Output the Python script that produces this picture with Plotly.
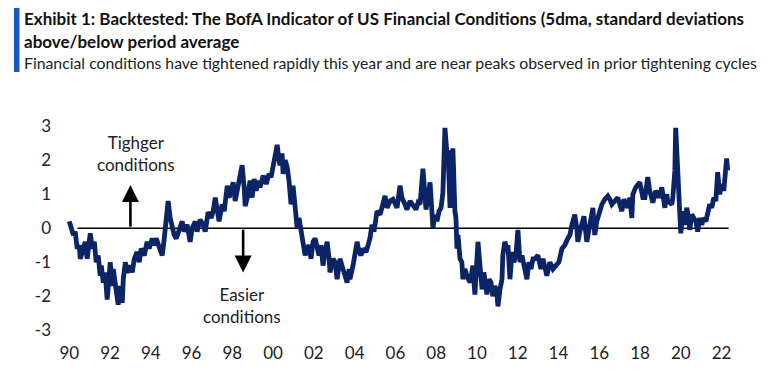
import plotly.graph_objects as go

years = [
    1990.00, 1990.05, 1990.20, 1990.29, 1990.39, 1990.49, 1990.54, 1990.64, 1990.78, 1990.88,
    1991.03, 1991.13, 1991.23, 1991.32, 1991.42, 1991.52, 1991.57, 1991.67, 1991.76, 1991.86,
    1991.96, 1992.01, 1992.11, 1992.16, 1992.25, 1992.40, 1992.50, 1992.60, 1992.65, 1992.75,
    1992.84, 1992.99, 1993.09, 1993.19, 1993.33, 1993.43, 1993.53, 1993.68, 1993.82, 1993.92,
    1994.07, 1994.17, 1994.26, 1994.41, 1994.56, 1994.66, 1994.75, 1994.85, 1994.95, 1995.05,
    1995.15, 1995.25, 1995.39, 1995.54, 1995.64, 1995.78, 1995.93, 1996.03, 1996.18, 1996.27,
    1996.42, 1996.57, 1996.67, 1996.76, 1996.81, 1996.96, 1997.06, 1997.16, 1997.25, 1997.35,
    1997.50, 1997.60, 1997.75, 1997.84, 1997.94, 1998.04, 1998.14, 1998.24, 1998.33, 1998.48,
    1998.58, 1998.63, 1998.77, 1998.87, 1998.97, 1999.07, 1999.17, 1999.26, 1999.36, 1999.51,
    1999.66, 1999.80, 1999.90, 2000.00, 2000.10, 2000.20, 2000.29, 2000.34, 2000.44, 2000.49,
    2000.59, 2000.69, 2000.78, 2000.88, 2000.98, 2001.08, 2001.18, 2001.27, 2001.37, 2001.47,
    2001.57, 2001.67, 2001.76, 2001.86, 2001.96, 2002.06, 2002.16, 2002.25, 2002.35, 2002.45,
    2002.55, 2002.65, 2002.75, 2002.79, 2002.94, 2003.04, 2003.14, 2003.28, 2003.38, 2003.48,
    2003.63, 2003.73, 2003.77, 2003.92, 2004.02, 2004.12, 2004.22, 2004.31, 2004.41, 2004.56,
    2004.66, 2004.75, 2004.85, 2004.95, 2005.05, 2005.10, 2005.25, 2005.34, 2005.49, 2005.59,
    2005.74, 2005.88, 2005.98, 2006.08, 2006.23, 2006.32, 2006.47, 2006.57, 2006.72, 2006.86,
    2007.01, 2007.11, 2007.21, 2007.35, 2007.45, 2007.50, 2007.60, 2007.70, 2007.79, 2007.84,
    2007.94, 2008.04, 2008.14, 2008.24, 2008.33, 2008.43, 2008.53, 2008.58, 2008.68, 2008.77,
    2008.82, 2008.92, 2008.97, 2009.02, 2009.07, 2009.17, 2009.26, 2009.31, 2009.41, 2009.51,
    2009.66, 2009.75, 2009.80, 2009.90, 2010.00, 2010.05, 2010.15, 2010.25, 2010.34, 2010.49,
    2010.59, 2010.69, 2010.78, 2010.88, 2010.98, 2011.03, 2011.13, 2011.23, 2011.27, 2011.37,
    2011.47, 2011.52, 2011.62, 2011.72, 2011.81, 2011.91, 2012.01, 2012.11, 2012.21, 2012.35,
    2012.45, 2012.55, 2012.65, 2012.75, 2012.84, 2012.99, 2013.14, 2013.24, 2013.33, 2013.43,
    2013.58, 2013.73, 2013.87, 2014.02, 2014.17, 2014.31, 2014.46, 2014.56, 2014.66, 2014.80,
    2014.90, 2014.95, 2015.05, 2015.15, 2015.25, 2015.39, 2015.54, 2015.69, 2015.78, 2015.88,
    2016.03, 2016.13, 2016.27, 2016.42, 2016.52, 2016.62, 2016.76, 2016.91, 2017.01, 2017.11,
    2017.21, 2017.30, 2017.40, 2017.50, 2017.60, 2017.65, 2017.79, 2017.99, 2018.14, 2018.24,
    2018.38, 2018.48, 2018.63, 2018.77, 2018.92, 2019.07, 2019.22, 2019.31, 2019.36, 2019.46,
    2019.56, 2019.61, 2019.71, 2019.75, 2019.80, 2019.85, 2019.95, 2020.00, 2020.10, 2020.20,
    2020.29, 2020.39, 2020.44, 2020.54, 2020.64, 2020.74, 2020.83, 2020.93, 2021.03, 2021.13,
    2021.23, 2021.32, 2021.42, 2021.52, 2021.62, 2021.72, 2021.81, 2021.91, 2022.01, 2022.11,
    2022.21, 2022.25, 2022.30,
]

fci = [
    0.20, 0.10, -0.20, -0.10, -0.60, -0.50, -0.90, -0.70, -0.40, -0.90,
    -0.15, -0.60, -0.40, -1.00, -0.80, -1.40, -1.10, -1.60, -1.30, -2.10,
    -1.40, -1.00, -1.70, -1.20, -1.60, -2.25, -1.70, -2.20, -1.50, -1.00,
    -1.30, -1.10, -1.30, -0.90, -0.70, -1.00, -0.60, -0.80, -0.40, -0.60,
    -0.30, -0.50, -0.30, -0.60, -0.80, -0.30, 0.40, 0.80, 0.30, 0.00,
    -0.20, -0.30, 0.00, 0.20, -0.10, 0.10, -0.40, 0.00, 0.20, -0.10,
    0.25, 0.10, -0.10, 0.20, 0.47, 0.30, 0.50, 0.90, 0.50, 0.20,
    0.70, 0.50, 1.25, 0.90, 1.10, 1.35, 0.80, 1.10, 1.30, 1.85,
    1.20, 0.65, 1.00, 1.40, 0.90, 1.45, 1.10, 1.40, 1.20, 1.55,
    1.30, 1.60, 1.50, 1.85, 2.10, 2.45, 2.00, 1.85, 2.20, 1.60,
    2.00, 1.80, 1.40, 0.70, 1.25, 0.40, 0.00, 0.30, -0.10, -0.40,
    -0.80, -0.60, -0.50, -0.90, -0.40, -0.30, -0.60, -0.80, -0.50, -1.10,
    -0.70, -0.40, -0.90, -1.30, -0.90, -1.00, -1.50, -0.90, -1.10, -1.30,
    -1.60, -1.20, -1.50, -1.10, -0.80, -0.40, -0.70, -0.80, -0.60, -0.70,
    -0.50, -0.30, 0.10, -0.10, 0.30, 0.50, 0.40, 0.60, 0.95, 0.60,
    0.80, 0.85, 0.75, 0.60, 1.25, 0.90, 0.70, 0.55, 0.80, 0.65,
    0.55, 0.75, 0.70, 1.75, 0.80, 0.55, 0.90, 1.35, 0.50, 0.00,
    0.40, 0.20, 0.50, 0.60, 1.05, 2.95, 2.20, 2.30, 0.60, 1.80,
    2.35, 0.50, 0.30, -0.60, -0.20, -0.90, -1.00, -1.50, -1.20, -1.40,
    -1.60, -1.30, -1.10, -1.95, -1.00, -0.40, -1.10, -1.80, -1.30, -1.95,
    -1.50, -1.60, -2.00, -1.70, -1.90, -2.30, -1.80, -1.50, -0.80, -0.40,
    -0.60, -0.50, -1.50, -0.70, -1.00, -0.80, -0.05, -1.00, -0.80, -1.20,
    -1.50, -1.00, -1.20, -0.90, -0.90, -0.80, -1.20, -0.90, -1.10, -1.40,
    -1.00, -1.20, -1.10, -1.00, -0.60, -0.50, -0.30, -0.20, 0.10, 0.40,
    0.00, -0.40, -0.10, 0.20, 0.35, -0.40, 0.20, 0.60, -0.20, 0.20,
    0.50, 0.70, 0.85, 0.95, 0.85, 0.70, 0.80, 0.90, 0.70, 0.50,
    0.85, 0.70, 0.60, 0.90, 0.30, 1.00, 1.20, 1.35, 0.90, 0.90,
    1.50, 1.10, 0.75, 1.10, 0.90, 1.20, 0.60, 1.00, 0.80, 0.75,
    0.70, 0.90, 1.70, 2.95, 2.20, 1.50, 0.60, -0.15, 0.50, 0.10,
    0.60, 0.30, -0.05, 0.40, 0.30, 0.20, -0.10, 0.30, 0.10, 0.30,
    0.20, 0.50, 0.70, 0.60, 0.90, 0.80, 1.65, 1.00, 1.30, 1.10,
    1.90, 2.05, 1.70,
]

tick_years = [1990, 1992, 1994, 1996, 1998, 2000, 2002, 2004, 2006, 2008,
              2010, 2012, 2014, 2016, 2018, 2020, 2022]
tick_text = ["90", "92", "94", "96", "98", "00", "02", "04", "06", "08",
             "10", "12", "14", "16", "18", "20", "22"]
y_ticks = [-3, -2, -1, 0, 1, 2, 3]
y_tick_text = ["-3", "-2", "-1", "0", "1", "2", "3"]

title_line1 = "Exhibit 1: Backtested: The BofA Indicator of US Financial Conditions (5dma, standard deviations"
title_line2 = "above/below period average"
subtitle = "Financial conditions have tightened rapidly this year and are near peaks observed in prior tightening cycles"

NAVY = "#0b2466"
FONT = "Lato, Roboto, sans-serif"

fig = go.Figure()
fig.add_trace(go.Scatter(
    x=years, y=fci, mode="lines",
    line=dict(color=NAVY, width=4.8),
    hoverinfo="skip", showlegend=False,
))

# zero reference line
fig.add_shape(type="line", xref="x", yref="y", x0=1990.4, x1=2022.35, y0=0, y1=0,
              line=dict(color="black", width=1.5), layer="below")

# arrows
fig.add_annotation(x=1993.0, y=1.27, ax=1993.0, ay=0, xref="x", yref="y",
                   axref="x", ayref="y", text="", showarrow=True,
                   arrowhead=2, arrowsize=1.3, arrowwidth=2.6, arrowcolor="black")
fig.add_annotation(x=1998.53, y=-1.3, ax=1998.53, ay=0, xref="x", yref="y",
                   axref="x", ayref="y", text="", showarrow=True,
                   arrowhead=2, arrowsize=1.3, arrowwidth=2.6, arrowcolor="black")

fig.add_annotation(x=1993.25, y=2.19, xref="x", yref="y", text="Tighger<br>conditions",
                   showarrow=False, font=dict(family=FONT, size=17, color="#222222"),
                   align="center")
fig.add_annotation(x=1998.45, y=-2.26, xref="x", yref="y", text="Easier<br>conditions",
                   showarrow=False, font=dict(family=FONT, size=17, color="#222222"),
                   align="center")

# title block
fig.add_shape(type="rect", xref="paper", yref="paper",
              x0=-0.0594, x1=-0.0514, y0=1.199, y1=1.489,
              fillcolor="#1a56c4", line=dict(width=0))
fig.add_annotation(
    xref="paper", yref="paper", x=-0.0478, y=1.439, xanchor="left", yanchor="middle",
    showarrow=False, align="left", text=f"<b>{title_line1}</b>",
    font=dict(family=FONT, size=17, color="#111111"),
)
fig.add_annotation(
    xref="paper", yref="paper", x=-0.0478, y=1.339, xanchor="left", yanchor="middle",
    showarrow=False, align="left", text=f"<b>{title_line2}</b>",
    font=dict(family=FONT, size=17, color="#111111"),
)
fig.add_annotation(
    xref="paper", yref="paper", x=-0.0478, y=1.240, xanchor="left", yanchor="middle",
    showarrow=False, align="left", text=subtitle,
    font=dict(family=FONT, size=15.8, color="#222222"),
)

fig.update_layout(
    width=781, height=383,
    margin=dict(l=55, r=35, t=116, b=46),
    paper_bgcolor="white", plot_bgcolor="white",
    font=dict(family=FONT, size=17, color="#222222"),
    showlegend=False,
    xaxis=dict(range=[1989.3, 2023.2], tickmode="array", tickvals=tick_years,
               ticktext=tick_text, showgrid=False, zeroline=False, showline=False,
               ticks="", ticklabelstandoff=4, fixedrange=True),
    yaxis=dict(range=[-3.2, 3.3], tickmode="array", tickvals=y_ticks,
               ticktext=y_tick_text,
               showgrid=False, zeroline=False, showline=False, ticks="",
               ticklabelstandoff=3, fixedrange=True),
)

fig.write_html("out.html", config={"displayModeBar": False},
               post_script="document.body.style.margin='0';")
